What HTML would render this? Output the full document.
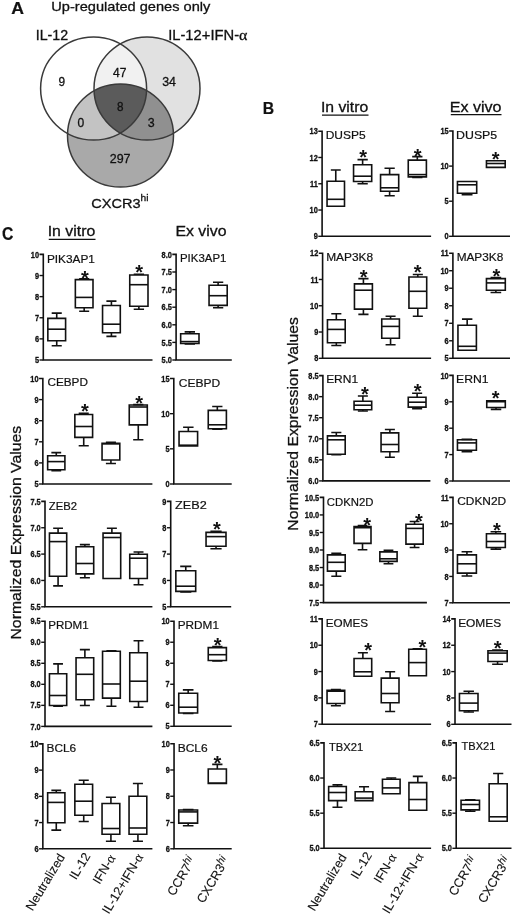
<!DOCTYPE html>
<html><head><meta charset="utf-8"><title>Figure</title>
<style>
html,body{margin:0;padding:0;background:#fff;width:520px;height:915px;overflow:hidden}
svg{display:block;will-change:transform}
text{font-family:"Liberation Sans", sans-serif}
</style></head><body>
<svg width="520" height="915" viewBox="0 0 520 915">
<rect width="520" height="915" fill="#fff"/>
<defs>
<clipPath id="cA"><ellipse cx="93.6" cy="88.5" rx="53" ry="51.5" /></clipPath>
<clipPath id="cB"><ellipse cx="147" cy="88.5" rx="53" ry="51.5" /></clipPath>
<clipPath id="cAB"><ellipse cx="147" cy="88.5" rx="53" ry="51.5" clip-path="url(#cA)"/></clipPath>
</defs>
<ellipse cx="93.6" cy="88.5" rx="53" ry="51.5" fill="#ffffff"/>
<ellipse cx="147" cy="88.5" rx="53" ry="51.5" fill="#e1e1e1"/>
<ellipse cx="120.5" cy="135.5" rx="53" ry="51.5" fill="#a9a9a9"/>
<g clip-path="url(#cA)"><ellipse cx="147" cy="88.5" rx="53" ry="51.5" fill="#f1f1f1"/><ellipse cx="120.5" cy="135.5" rx="53" ry="51.5" fill="#c3c3c3"/></g>
<g clip-path="url(#cB)"><ellipse cx="120.5" cy="135.5" rx="53" ry="51.5" fill="#909090"/></g>
<g clip-path="url(#cAB)"><ellipse cx="120.5" cy="135.5" rx="53" ry="51.5" fill="#5b5b5b"/></g>
<ellipse cx="93.6" cy="88.5" rx="53" ry="51.5" fill="none" stroke="#3a3a3a" stroke-width="1.5"/>
<ellipse cx="147" cy="88.5" rx="53" ry="51.5" fill="none" stroke="#3a3a3a" stroke-width="1.5"/>
<ellipse cx="120.5" cy="135.5" rx="53" ry="51.5" fill="none" stroke="#3a3a3a" stroke-width="1.5"/>
<text transform="translate(58.50,85.80) scale(0.9429,1)" font-size="12.6" fill="#111" stroke="#111" stroke-width="0.3">9</text>
<text transform="translate(113.10,76.60) scale(0.9571,1)" font-size="12.6" fill="#111" stroke="#111" stroke-width="0.3">47</text>
<text transform="translate(162.20,86.30) scale(0.9857,1)" font-size="12.6" fill="#111" stroke="#111" stroke-width="0.3">34</text>
<text transform="translate(116.90,110.70) scale(0.9286,1)" font-size="12.6" fill="#111" stroke="#111" stroke-width="0.3">8</text>
<text transform="translate(77.60,127.30) scale(0.9571,1)" font-size="12.6" fill="#111" stroke="#111" stroke-width="0.3">0</text>
<text transform="translate(147.70,127.00) scale(0.9857,1)" font-size="12.6" fill="#111" stroke="#111" stroke-width="0.3">3</text>
<text transform="translate(109.70,162.60) scale(0.9905,1)" font-size="12.6" fill="#111" stroke="#111" stroke-width="0.3">297</text>
<text transform="translate(11.15,13.70) scale(1.1045,1)" font-size="16.0" font-weight="bold" fill="#111" stroke="#111" stroke-width="0.2">A</text>
<text transform="translate(51.23,11.10) scale(1.0748,1)" font-size="13.6" fill="#111" stroke="#111" stroke-width="0.3">Up-regulated genes only</text>
<text transform="translate(35.69,39.90) scale(1.0097,1)" font-size="14.1" fill="#111" stroke="#111" stroke-width="0.3">IL-12</text>
<text transform="translate(168.15,40.00) scale(1.0467,1)" font-size="14.1" fill="#111" stroke="#111" stroke-width="0.3">IL-12+IFN-<tspan font-family="Liberation Serif" font-size="1.08em">α</tspan></text>
<text transform="translate(91.20,207.70) scale(1.0717,1)" font-size="13.6" fill="#111" stroke="#111" stroke-width="0.3">CXCR3<tspan font-size="9.5" dy="-6.3">hi</tspan></text>
<text transform="translate(262.75,113.60) scale(0.9455,1)" font-size="16.67" font-weight="bold" fill="#111" stroke="#111" stroke-width="0.2">B</text>
<text transform="translate(2.10,239.70) scale(0.9000,1)" font-size="17.47" font-weight="bold" fill="#111" stroke="#111" stroke-width="0.2">C</text>
<text transform="translate(320.92,112.00) scale(1.0814,1)" font-size="14.6" fill="#111" stroke="#111" stroke-width="0.3">In vitro</text>
<path d="M322,115.2H368.5" stroke="#111" stroke-width="1.3"/>
<text transform="translate(449.70,112.00) scale(1.1022,1)" font-size="14.6" fill="#111" stroke="#111" stroke-width="0.3">Ex vivo</text>
<path d="M450.8,114.6H501.5" stroke="#111" stroke-width="1.3"/>
<text transform="translate(47.66,235.70) scale(1.0872,1)" font-size="14.6" fill="#111" stroke="#111" stroke-width="0.3">In vitro</text>
<path d="M48.75,239.3H95.5" stroke="#111" stroke-width="1.3"/>
<text transform="translate(175.41,235.70) scale(1.0870,1)" font-size="14.6" fill="#111" stroke="#111" stroke-width="0.3">Ex vivo</text>
<text transform="translate(20.90,639.55) rotate(-90) scale(1.0530,1)" font-size="15" fill="#111" stroke="#111" stroke-width="0.3">Normalized Expression Values</text>
<text transform="translate(298.30,530.65) rotate(-90) scale(1.0525,1)" font-size="15" fill="#111" stroke="#111" stroke-width="0.3">Normalized Expression Values</text>
<path d="M318.3,131.2H322.1V236.3H431.1" fill="none" stroke="#111" stroke-width="1.6"/>
<text transform="translate(317.80,134.30) scale(0.9,1)" font-size="8.2" text-anchor="end" font-weight="bold" fill="#111" stroke="#111" stroke-width="0.3">13</text>
<path d="M318.3,157.47H322.1" stroke="#111" stroke-width="1.4"/>
<text transform="translate(317.80,160.57) scale(0.9,1)" font-size="8.2" text-anchor="end" font-weight="bold" fill="#111" stroke="#111" stroke-width="0.3">12</text>
<path d="M318.3,183.75H322.1" stroke="#111" stroke-width="1.4"/>
<text transform="translate(317.80,186.85) scale(0.9,1)" font-size="8.2" text-anchor="end" font-weight="bold" fill="#111" stroke="#111" stroke-width="0.3">11</text>
<path d="M318.3,210.03H322.1" stroke="#111" stroke-width="1.4"/>
<text transform="translate(317.80,213.12) scale(0.9,1)" font-size="8.2" text-anchor="end" font-weight="bold" fill="#111" stroke="#111" stroke-width="0.3">10</text>
<path d="M318.3,236.30H322.1" stroke="#111" stroke-width="1.4"/>
<text transform="translate(317.80,239.40) scale(0.9,1)" font-size="8.2" text-anchor="end" font-weight="bold" fill="#111" stroke="#111" stroke-width="0.3">9</text>
<text transform="translate(325.73,138.90) scale(1.0694,1)" font-size="11.2" fill="#111" stroke="#111" stroke-width="0.2">DUSP5</text>
<path d="M327.05,181.30H344.50V206.20H327.05Z" fill="#fff" stroke="#111" stroke-width="1.6"/>
<path d="M327.05,199.30H344.50" stroke="#111" stroke-width="1.6"/>
<path d="M335.77,181.30V170.00M330.82,170.00H340.73" fill="none" stroke="#111" stroke-width="1.6"/>
<path d="M353.55,164.70H371.70V181.50H353.55Z" fill="#fff" stroke="#111" stroke-width="1.6"/>
<path d="M353.55,176.20H371.70" stroke="#111" stroke-width="1.6"/>
<path d="M362.62,164.70V159.60M357.49,159.60H367.76" fill="none" stroke="#111" stroke-width="1.6"/>
<path d="M362.62,181.50V183.80M357.49,183.80H367.76" fill="none" stroke="#111" stroke-width="1.6"/>
<text x="363.10" y="164.10" font-size="20" font-weight="bold" text-anchor="middle" fill="#111">*</text>
<path d="M380.55,174.60H398.70V191.20H380.55Z" fill="#fff" stroke="#111" stroke-width="1.6"/>
<path d="M380.55,187.80H398.70" stroke="#111" stroke-width="1.6"/>
<path d="M389.62,174.60V168.20M384.49,168.20H394.76" fill="none" stroke="#111" stroke-width="1.6"/>
<path d="M389.62,191.20V195.80M384.49,195.80H394.76" fill="none" stroke="#111" stroke-width="1.6"/>
<path d="M408.25,160.10H426.40V176.90H408.25Z" fill="#fff" stroke="#111" stroke-width="1.6"/>
<path d="M408.25,174.60H426.40" stroke="#111" stroke-width="1.6"/>
<path d="M417.32,160.10V156.60M412.19,156.60H422.46" fill="none" stroke="#111" stroke-width="1.6"/>
<path d="M417.32,176.90V177.40M412.19,177.40H422.46" fill="none" stroke="#111" stroke-width="1.6"/>
<text x="417.70" y="163.20" font-size="20" font-weight="bold" text-anchor="middle" fill="#111">*</text>
<path d="M318.8,253.2H322.6V358.3H431.1" fill="none" stroke="#111" stroke-width="1.6"/>
<text transform="translate(318.30,256.30) scale(0.9,1)" font-size="8.2" text-anchor="end" font-weight="bold" fill="#111" stroke="#111" stroke-width="0.3">12</text>
<path d="M318.8,279.48H322.6" stroke="#111" stroke-width="1.4"/>
<text transform="translate(318.30,282.58) scale(0.9,1)" font-size="8.2" text-anchor="end" font-weight="bold" fill="#111" stroke="#111" stroke-width="0.3">11</text>
<path d="M318.8,305.75H322.6" stroke="#111" stroke-width="1.4"/>
<text transform="translate(318.30,308.85) scale(0.9,1)" font-size="8.2" text-anchor="end" font-weight="bold" fill="#111" stroke="#111" stroke-width="0.3">10</text>
<path d="M318.8,332.02H322.6" stroke="#111" stroke-width="1.4"/>
<text transform="translate(318.30,335.12) scale(0.9,1)" font-size="8.2" text-anchor="end" font-weight="bold" fill="#111" stroke="#111" stroke-width="0.3">9</text>
<path d="M318.8,358.30H322.6" stroke="#111" stroke-width="1.4"/>
<text transform="translate(318.30,361.40) scale(0.9,1)" font-size="8.2" text-anchor="end" font-weight="bold" fill="#111" stroke="#111" stroke-width="0.3">8</text>
<text transform="translate(326.14,261.40) scale(1.0628,1)" font-size="11.2" fill="#111" stroke="#111" stroke-width="0.2">MAP3K8</text>
<path d="M327.45,319.70H345.20V342.80H327.45Z" fill="#fff" stroke="#111" stroke-width="1.6"/>
<path d="M327.45,329.40H345.20" stroke="#111" stroke-width="1.6"/>
<path d="M336.32,319.70V313.70M331.29,313.70H341.36" fill="none" stroke="#111" stroke-width="1.6"/>
<path d="M336.32,342.80V345.50M331.29,345.50H341.36" fill="none" stroke="#111" stroke-width="1.6"/>
<path d="M354.45,283.90H372.40V309.10H354.45Z" fill="#fff" stroke="#111" stroke-width="1.6"/>
<path d="M354.45,290.20H372.40" stroke="#111" stroke-width="1.6"/>
<path d="M363.42,283.90V278.60M358.34,278.60H368.51" fill="none" stroke="#111" stroke-width="1.6"/>
<path d="M363.42,309.10V314.40M358.34,314.40H368.51" fill="none" stroke="#111" stroke-width="1.6"/>
<text x="363.70" y="283.50" font-size="20" font-weight="bold" text-anchor="middle" fill="#111">*</text>
<path d="M381.75,319.00H399.40V338.20H381.75Z" fill="#fff" stroke="#111" stroke-width="1.6"/>
<path d="M381.75,326.40H399.40" stroke="#111" stroke-width="1.6"/>
<path d="M390.57,319.00V316.20M385.57,316.20H395.58" fill="none" stroke="#111" stroke-width="1.6"/>
<path d="M390.57,338.20V344.80M385.57,344.80H395.58" fill="none" stroke="#111" stroke-width="1.6"/>
<path d="M408.95,277.00H426.70V308.20H408.95Z" fill="#fff" stroke="#111" stroke-width="1.6"/>
<path d="M408.95,291.30H426.70" stroke="#111" stroke-width="1.6"/>
<path d="M417.82,277.00V274.50M412.79,274.50H422.86" fill="none" stroke="#111" stroke-width="1.6"/>
<path d="M417.82,308.20V316.20M412.79,316.20H422.86" fill="none" stroke="#111" stroke-width="1.6"/>
<text x="417.70" y="279.40" font-size="20" font-weight="bold" text-anchor="middle" fill="#111">*</text>
<path d="M319.09999999999997,375.6H322.9V480.9H430.4" fill="none" stroke="#111" stroke-width="1.6"/>
<text transform="translate(318.60,378.70) scale(0.9,1)" font-size="8.2" text-anchor="end" font-weight="bold" fill="#111" stroke="#111" stroke-width="0.3">8.5</text>
<path d="M319.09999999999997,396.66H322.9" stroke="#111" stroke-width="1.4"/>
<text transform="translate(318.60,399.76) scale(0.9,1)" font-size="8.2" text-anchor="end" font-weight="bold" fill="#111" stroke="#111" stroke-width="0.3">8.0</text>
<path d="M319.09999999999997,417.72H322.9" stroke="#111" stroke-width="1.4"/>
<text transform="translate(318.60,420.82) scale(0.9,1)" font-size="8.2" text-anchor="end" font-weight="bold" fill="#111" stroke="#111" stroke-width="0.3">7.5</text>
<path d="M319.09999999999997,438.78H322.9" stroke="#111" stroke-width="1.4"/>
<text transform="translate(318.60,441.88) scale(0.9,1)" font-size="8.2" text-anchor="end" font-weight="bold" fill="#111" stroke="#111" stroke-width="0.3">7.0</text>
<path d="M319.09999999999997,459.84H322.9" stroke="#111" stroke-width="1.4"/>
<text transform="translate(318.60,462.94) scale(0.9,1)" font-size="8.2" text-anchor="end" font-weight="bold" fill="#111" stroke="#111" stroke-width="0.3">6.5</text>
<path d="M319.09999999999997,480.90H322.9" stroke="#111" stroke-width="1.4"/>
<text transform="translate(318.60,484.00) scale(0.9,1)" font-size="8.2" text-anchor="end" font-weight="bold" fill="#111" stroke="#111" stroke-width="0.3">6.0</text>
<text transform="translate(326.13,383.40) scale(1.0714,1)" font-size="11.2" fill="#111" stroke="#111" stroke-width="0.2">ERN1</text>
<path d="M327.45,435.90H345.20V454.20H327.45Z" fill="#fff" stroke="#111" stroke-width="1.6"/>
<path d="M327.45,439.80H345.20" stroke="#111" stroke-width="1.6"/>
<path d="M336.32,435.90V432.50M331.29,432.50H341.36" fill="none" stroke="#111" stroke-width="1.6"/>
<path d="M336.32,454.20V454.80M331.29,454.80H341.36" fill="none" stroke="#111" stroke-width="1.6"/>
<path d="M354.05,401.30H371.70V409.80H354.05Z" fill="#fff" stroke="#111" stroke-width="1.6"/>
<path d="M354.05,405.20H371.70" stroke="#111" stroke-width="1.6"/>
<path d="M362.88,401.30V396.00M357.87,396.00H367.88" fill="none" stroke="#111" stroke-width="1.6"/>
<path d="M362.88,409.80V411.00M357.87,411.00H367.88" fill="none" stroke="#111" stroke-width="1.6"/>
<text x="364.80" y="400.90" font-size="20" font-weight="bold" text-anchor="middle" fill="#111">*</text>
<path d="M381.05,432.90H398.70V451.80H381.05Z" fill="#fff" stroke="#111" stroke-width="1.6"/>
<path d="M381.05,444.50H398.70" stroke="#111" stroke-width="1.6"/>
<path d="M389.88,432.90V429.50M384.87,429.50H394.88" fill="none" stroke="#111" stroke-width="1.6"/>
<path d="M389.88,451.80V457.20M384.87,457.20H394.88" fill="none" stroke="#111" stroke-width="1.6"/>
<path d="M408.25,397.20H426.00V407.10H408.25Z" fill="#fff" stroke="#111" stroke-width="1.6"/>
<path d="M408.25,402.20H426.00" stroke="#111" stroke-width="1.6"/>
<path d="M417.12,397.20V393.20M412.09,393.20H422.16" fill="none" stroke="#111" stroke-width="1.6"/>
<path d="M417.12,407.10V408.70M412.09,408.70H422.16" fill="none" stroke="#111" stroke-width="1.6"/>
<text x="417.70" y="398.40" font-size="20" font-weight="bold" text-anchor="middle" fill="#111">*</text>
<path d="M319.7,497.4H323.5V602.6H426.9" fill="none" stroke="#111" stroke-width="1.6"/>
<text transform="translate(319.20,500.50) scale(0.9,1)" font-size="8.2" text-anchor="end" font-weight="bold" fill="#111" stroke="#111" stroke-width="0.3">10.5</text>
<path d="M319.7,514.93H323.5" stroke="#111" stroke-width="1.4"/>
<text transform="translate(319.20,518.03) scale(0.9,1)" font-size="8.2" text-anchor="end" font-weight="bold" fill="#111" stroke="#111" stroke-width="0.3">10.0</text>
<path d="M319.7,532.47H323.5" stroke="#111" stroke-width="1.4"/>
<text transform="translate(319.20,535.57) scale(0.9,1)" font-size="8.2" text-anchor="end" font-weight="bold" fill="#111" stroke="#111" stroke-width="0.3">9.5</text>
<path d="M319.7,550.00H323.5" stroke="#111" stroke-width="1.4"/>
<text transform="translate(319.20,553.10) scale(0.9,1)" font-size="8.2" text-anchor="end" font-weight="bold" fill="#111" stroke="#111" stroke-width="0.3">9.0</text>
<path d="M319.7,567.53H323.5" stroke="#111" stroke-width="1.4"/>
<text transform="translate(319.20,570.63) scale(0.9,1)" font-size="8.2" text-anchor="end" font-weight="bold" fill="#111" stroke="#111" stroke-width="0.3">8.5</text>
<path d="M319.7,585.07H323.5" stroke="#111" stroke-width="1.4"/>
<text transform="translate(319.20,588.17) scale(0.9,1)" font-size="8.2" text-anchor="end" font-weight="bold" fill="#111" stroke="#111" stroke-width="0.3">8.0</text>
<path d="M319.7,602.60H323.5" stroke="#111" stroke-width="1.4"/>
<text transform="translate(319.20,605.70) scale(0.9,1)" font-size="8.2" text-anchor="end" font-weight="bold" fill="#111" stroke="#111" stroke-width="0.3">7.5</text>
<text transform="translate(326.80,505.60) scale(1.0130,1)" font-size="11.2" fill="#111" stroke="#111" stroke-width="0.2">CDKN2D</text>
<path d="M327.45,554.90H345.20V571.10H327.45Z" fill="#fff" stroke="#111" stroke-width="1.6"/>
<path d="M327.45,562.30H345.20" stroke="#111" stroke-width="1.6"/>
<path d="M336.32,554.90V553.30M331.29,553.30H341.36" fill="none" stroke="#111" stroke-width="1.6"/>
<path d="M336.32,571.10V576.20M331.29,576.20H341.36" fill="none" stroke="#111" stroke-width="1.6"/>
<path d="M354.05,526.50H371.00V543.40H354.05Z" fill="#fff" stroke="#111" stroke-width="1.6"/>
<path d="M354.05,527.70H371.00" stroke="#111" stroke-width="1.6"/>
<path d="M362.52,526.50V525.60M357.70,525.60H367.35" fill="none" stroke="#111" stroke-width="1.6"/>
<path d="M362.52,543.40V549.80M357.70,549.80H367.35" fill="none" stroke="#111" stroke-width="1.6"/>
<text x="367.20" y="531.50" font-size="20" font-weight="bold" text-anchor="middle" fill="#111">*</text>
<path d="M379.85,551.90H397.10V561.40H379.85Z" fill="#fff" stroke="#111" stroke-width="1.6"/>
<path d="M379.85,558.80H397.10" stroke="#111" stroke-width="1.6"/>
<path d="M388.48,551.90V550.30M383.57,550.30H393.38" fill="none" stroke="#111" stroke-width="1.6"/>
<path d="M388.48,561.40V563.70M383.57,563.70H393.38" fill="none" stroke="#111" stroke-width="1.6"/>
<path d="M405.95,524.20H423.20V544.10H405.95Z" fill="#fff" stroke="#111" stroke-width="1.6"/>
<path d="M405.95,528.40H423.20" stroke="#111" stroke-width="1.6"/>
<path d="M414.57,524.20V521.50M409.67,521.50H419.48" fill="none" stroke="#111" stroke-width="1.6"/>
<path d="M414.57,544.10V547.50M409.67,547.50H419.48" fill="none" stroke="#111" stroke-width="1.6"/>
<text x="418.80" y="527.50" font-size="20" font-weight="bold" text-anchor="middle" fill="#111">*</text>
<path d="M318.34999999999997,618.9H322.15V724.2H431.1" fill="none" stroke="#111" stroke-width="1.6"/>
<text transform="translate(317.85,622.00) scale(0.9,1)" font-size="8.2" text-anchor="end" font-weight="bold" fill="#111" stroke="#111" stroke-width="0.3">11</text>
<path d="M318.34999999999997,645.23H322.15" stroke="#111" stroke-width="1.4"/>
<text transform="translate(317.85,648.33) scale(0.9,1)" font-size="8.2" text-anchor="end" font-weight="bold" fill="#111" stroke="#111" stroke-width="0.3">10</text>
<path d="M318.34999999999997,671.55H322.15" stroke="#111" stroke-width="1.4"/>
<text transform="translate(317.85,674.65) scale(0.9,1)" font-size="8.2" text-anchor="end" font-weight="bold" fill="#111" stroke="#111" stroke-width="0.3">9</text>
<path d="M318.34999999999997,697.88H322.15" stroke="#111" stroke-width="1.4"/>
<text transform="translate(317.85,700.98) scale(0.9,1)" font-size="8.2" text-anchor="end" font-weight="bold" fill="#111" stroke="#111" stroke-width="0.3">8</text>
<path d="M318.34999999999997,724.20H322.15" stroke="#111" stroke-width="1.4"/>
<text transform="translate(317.85,727.30) scale(0.9,1)" font-size="8.2" text-anchor="end" font-weight="bold" fill="#111" stroke="#111" stroke-width="0.3">7</text>
<text transform="translate(325.75,626.90) scale(1.0462,1)" font-size="11.2" fill="#111" stroke="#111" stroke-width="0.2">EOMES</text>
<path d="M327.05,690.30H344.70V703.50H327.05Z" fill="#fff" stroke="#111" stroke-width="1.6"/>
<path d="M327.05,691.20H344.70" stroke="#111" stroke-width="1.6"/>
<path d="M335.88,690.30V689.60M330.87,689.60H340.88" fill="none" stroke="#111" stroke-width="1.6"/>
<path d="M335.88,703.50V705.80M330.87,705.80H340.88" fill="none" stroke="#111" stroke-width="1.6"/>
<path d="M354.05,658.50H371.70V676.20H354.05Z" fill="#fff" stroke="#111" stroke-width="1.6"/>
<path d="M354.05,671.80H371.70" stroke="#111" stroke-width="1.6"/>
<path d="M362.88,658.50V652.70M357.87,652.70H367.88" fill="none" stroke="#111" stroke-width="1.6"/>
<text x="368.10" y="656.90" font-size="20" font-weight="bold" text-anchor="middle" fill="#111">*</text>
<path d="M381.25,678.10H399.00V702.80H381.25Z" fill="#fff" stroke="#111" stroke-width="1.6"/>
<path d="M381.25,693.50H399.00" stroke="#111" stroke-width="1.6"/>
<path d="M390.12,678.10V671.80M385.09,671.80H395.16" fill="none" stroke="#111" stroke-width="1.6"/>
<path d="M390.12,702.80V711.50M385.09,711.50H395.16" fill="none" stroke="#111" stroke-width="1.6"/>
<path d="M408.75,649.20H426.40V675.80H408.75Z" fill="#fff" stroke="#111" stroke-width="1.6"/>
<path d="M408.75,662.60H426.40" stroke="#111" stroke-width="1.6"/>
<path d="M417.57,649.20V648.80M412.57,648.80H422.58" fill="none" stroke="#111" stroke-width="1.6"/>
<text x="422.30" y="653.50" font-size="20" font-weight="bold" text-anchor="middle" fill="#111">*</text>
<path d="M320.2,742.9H324.0V848.3H431.1" fill="none" stroke="#111" stroke-width="1.6"/>
<text transform="translate(319.70,746.00) scale(0.9,1)" font-size="8.2" text-anchor="end" font-weight="bold" fill="#111" stroke="#111" stroke-width="0.3">6.5</text>
<path d="M320.2,778.03H324.0" stroke="#111" stroke-width="1.4"/>
<text transform="translate(319.70,781.13) scale(0.9,1)" font-size="8.2" text-anchor="end" font-weight="bold" fill="#111" stroke="#111" stroke-width="0.3">6.0</text>
<path d="M320.2,813.17H324.0" stroke="#111" stroke-width="1.4"/>
<text transform="translate(319.70,816.27) scale(0.9,1)" font-size="8.2" text-anchor="end" font-weight="bold" fill="#111" stroke="#111" stroke-width="0.3">5.5</text>
<path d="M320.2,848.30H324.0" stroke="#111" stroke-width="1.4"/>
<text transform="translate(319.70,851.40) scale(0.9,1)" font-size="8.2" text-anchor="end" font-weight="bold" fill="#111" stroke="#111" stroke-width="0.3">5.0</text>
<text transform="translate(329.00,750.60) scale(1.0000,1)" font-size="11.2" fill="#111" stroke="#111" stroke-width="0.2">TBX21</text>
<path d="M328.65,786.50H346.30V800.60H328.65Z" fill="#fff" stroke="#111" stroke-width="1.6"/>
<path d="M328.65,792.50H346.30" stroke="#111" stroke-width="1.6"/>
<path d="M337.48,786.50V784.90M332.47,784.90H342.48" fill="none" stroke="#111" stroke-width="1.6"/>
<path d="M337.48,800.60V807.30M332.47,807.30H342.48" fill="none" stroke="#111" stroke-width="1.6"/>
<path d="M355.15,791.80H372.90V800.60H355.15Z" fill="#fff" stroke="#111" stroke-width="1.6"/>
<path d="M355.15,798.10H372.90" stroke="#111" stroke-width="1.6"/>
<path d="M364.02,791.80V786.80M358.99,786.80H369.06" fill="none" stroke="#111" stroke-width="1.6"/>
<path d="M382.45,779.20H400.10V793.70H382.45Z" fill="#fff" stroke="#111" stroke-width="1.6"/>
<path d="M382.45,787.90H400.10" stroke="#111" stroke-width="1.6"/>
<path d="M391.27,779.20V778.00M386.27,778.00H396.28" fill="none" stroke="#111" stroke-width="1.6"/>
<path d="M408.95,782.60H426.70V810.30H408.95Z" fill="#fff" stroke="#111" stroke-width="1.6"/>
<path d="M408.95,799.50H426.70" stroke="#111" stroke-width="1.6"/>
<path d="M417.82,782.60V776.40M412.79,776.40H422.86" fill="none" stroke="#111" stroke-width="1.6"/>
<path d="M449.09999999999997,131.0H452.9V236.3H510" fill="none" stroke="#111" stroke-width="1.6"/>
<text transform="translate(448.60,134.10) scale(0.9,1)" font-size="8.2" text-anchor="end" font-weight="bold" fill="#111" stroke="#111" stroke-width="0.3">15</text>
<path d="M449.09999999999997,166.10H452.9" stroke="#111" stroke-width="1.4"/>
<text transform="translate(448.60,169.20) scale(0.9,1)" font-size="8.2" text-anchor="end" font-weight="bold" fill="#111" stroke="#111" stroke-width="0.3">10</text>
<path d="M449.09999999999997,201.20H452.9" stroke="#111" stroke-width="1.4"/>
<text transform="translate(448.60,204.30) scale(0.9,1)" font-size="8.2" text-anchor="end" font-weight="bold" fill="#111" stroke="#111" stroke-width="0.3">5</text>
<path d="M449.09999999999997,236.30H452.9" stroke="#111" stroke-width="1.4"/>
<text transform="translate(448.60,239.40) scale(0.9,1)" font-size="8.2" text-anchor="end" font-weight="bold" fill="#111" stroke="#111" stroke-width="0.3">0</text>
<text transform="translate(456.10,138.50) scale(1.1028,1)" font-size="11.2" fill="#111" stroke="#111" stroke-width="0.2">DUSP5</text>
<path d="M457.45,181.50H476.70V193.20H457.45Z" fill="#fff" stroke="#111" stroke-width="1.6"/>
<path d="M457.45,184.80H476.70" stroke="#111" stroke-width="1.6"/>
<path d="M467.07,193.20V194.80M461.65,194.80H472.50" fill="none" stroke="#111" stroke-width="1.6"/>
<path d="M486.45,160.80H505.20V167.40H486.45Z" fill="#fff" stroke="#111" stroke-width="1.6"/>
<path d="M486.45,163.50H505.20" stroke="#111" stroke-width="1.6"/>
<text x="495.70" y="165.80" font-size="20" font-weight="bold" text-anchor="middle" fill="#111">*</text>
<path d="M449.09999999999997,253.2H452.9V358.3H510" fill="none" stroke="#111" stroke-width="1.6"/>
<text transform="translate(448.60,256.30) scale(0.9,1)" font-size="8.2" text-anchor="end" font-weight="bold" fill="#111" stroke="#111" stroke-width="0.3">11</text>
<path d="M449.09999999999997,270.72H452.9" stroke="#111" stroke-width="1.4"/>
<text transform="translate(448.60,273.82) scale(0.9,1)" font-size="8.2" text-anchor="end" font-weight="bold" fill="#111" stroke="#111" stroke-width="0.3">10</text>
<path d="M449.09999999999997,288.23H452.9" stroke="#111" stroke-width="1.4"/>
<text transform="translate(448.60,291.33) scale(0.9,1)" font-size="8.2" text-anchor="end" font-weight="bold" fill="#111" stroke="#111" stroke-width="0.3">9</text>
<path d="M449.09999999999997,305.75H452.9" stroke="#111" stroke-width="1.4"/>
<text transform="translate(448.60,308.85) scale(0.9,1)" font-size="8.2" text-anchor="end" font-weight="bold" fill="#111" stroke="#111" stroke-width="0.3">8</text>
<path d="M449.09999999999997,323.27H452.9" stroke="#111" stroke-width="1.4"/>
<text transform="translate(448.60,326.37) scale(0.9,1)" font-size="8.2" text-anchor="end" font-weight="bold" fill="#111" stroke="#111" stroke-width="0.3">7</text>
<path d="M449.09999999999997,340.78H452.9" stroke="#111" stroke-width="1.4"/>
<text transform="translate(448.60,343.88) scale(0.9,1)" font-size="8.2" text-anchor="end" font-weight="bold" fill="#111" stroke="#111" stroke-width="0.3">6</text>
<path d="M449.09999999999997,358.30H452.9" stroke="#111" stroke-width="1.4"/>
<text transform="translate(448.60,361.40) scale(0.9,1)" font-size="8.2" text-anchor="end" font-weight="bold" fill="#111" stroke="#111" stroke-width="0.3">5</text>
<text transform="translate(456.64,260.50) scale(1.0558,1)" font-size="11.2" fill="#111" stroke="#111" stroke-width="0.2">MAP3K8</text>
<path d="M457.95,325.20H476.40V350.20H457.95Z" fill="#fff" stroke="#111" stroke-width="1.6"/>
<path d="M457.95,346.30H476.40" stroke="#111" stroke-width="1.6"/>
<path d="M467.17,325.20V319.10M461.96,319.10H472.39" fill="none" stroke="#111" stroke-width="1.6"/>
<path d="M486.45,278.60H505.30V290.20H486.45Z" fill="#fff" stroke="#111" stroke-width="1.6"/>
<path d="M486.45,282.90H505.30" stroke="#111" stroke-width="1.6"/>
<path d="M495.88,278.60V277.50M490.56,277.50H501.19" fill="none" stroke="#111" stroke-width="1.6"/>
<path d="M495.88,290.20V292.50M490.56,292.50H501.19" fill="none" stroke="#111" stroke-width="1.6"/>
<text x="496.50" y="283.20" font-size="20" font-weight="bold" text-anchor="middle" fill="#111">*</text>
<path d="M449.2,375.4H453.0V481.0H510" fill="none" stroke="#111" stroke-width="1.6"/>
<text transform="translate(448.70,378.50) scale(0.9,1)" font-size="8.2" text-anchor="end" font-weight="bold" fill="#111" stroke="#111" stroke-width="0.3">10</text>
<path d="M449.2,401.80H453.0" stroke="#111" stroke-width="1.4"/>
<text transform="translate(448.70,404.90) scale(0.9,1)" font-size="8.2" text-anchor="end" font-weight="bold" fill="#111" stroke="#111" stroke-width="0.3">9</text>
<path d="M449.2,428.20H453.0" stroke="#111" stroke-width="1.4"/>
<text transform="translate(448.70,431.30) scale(0.9,1)" font-size="8.2" text-anchor="end" font-weight="bold" fill="#111" stroke="#111" stroke-width="0.3">8</text>
<path d="M449.2,454.60H453.0" stroke="#111" stroke-width="1.4"/>
<text transform="translate(448.70,457.70) scale(0.9,1)" font-size="8.2" text-anchor="end" font-weight="bold" fill="#111" stroke="#111" stroke-width="0.3">7</text>
<path d="M449.2,481.00H453.0" stroke="#111" stroke-width="1.4"/>
<text transform="translate(448.70,484.10) scale(0.9,1)" font-size="8.2" text-anchor="end" font-weight="bold" fill="#111" stroke="#111" stroke-width="0.3">6</text>
<text transform="translate(456.11,383.30) scale(1.0893,1)" font-size="11.2" fill="#111" stroke="#111" stroke-width="0.2">ERN1</text>
<path d="M457.45,439.80H476.40V450.30H457.45Z" fill="#fff" stroke="#111" stroke-width="1.6"/>
<path d="M457.45,442.90H476.40" stroke="#111" stroke-width="1.6"/>
<path d="M466.92,439.80V439.40M461.58,439.40H472.27" fill="none" stroke="#111" stroke-width="1.6"/>
<path d="M466.92,450.30V451.80M461.58,451.80H472.27" fill="none" stroke="#111" stroke-width="1.6"/>
<path d="M486.75,400.90H505.30V407.50H486.75Z" fill="#fff" stroke="#111" stroke-width="1.6"/>
<path d="M486.75,401.70H505.30" stroke="#111" stroke-width="1.6"/>
<path d="M496.02,407.50V409.40M490.79,409.40H501.26" fill="none" stroke="#111" stroke-width="1.6"/>
<text x="495.70" y="405.20" font-size="20" font-weight="bold" text-anchor="middle" fill="#111">*</text>
<path d="M449.2,497.4H453.0V602.8H510" fill="none" stroke="#111" stroke-width="1.6"/>
<text transform="translate(448.70,500.50) scale(0.9,1)" font-size="8.2" text-anchor="end" font-weight="bold" fill="#111" stroke="#111" stroke-width="0.3">11</text>
<path d="M449.2,523.75H453.0" stroke="#111" stroke-width="1.4"/>
<text transform="translate(448.70,526.85) scale(0.9,1)" font-size="8.2" text-anchor="end" font-weight="bold" fill="#111" stroke="#111" stroke-width="0.3">10</text>
<path d="M449.2,550.10H453.0" stroke="#111" stroke-width="1.4"/>
<text transform="translate(448.70,553.20) scale(0.9,1)" font-size="8.2" text-anchor="end" font-weight="bold" fill="#111" stroke="#111" stroke-width="0.3">9</text>
<path d="M449.2,576.45H453.0" stroke="#111" stroke-width="1.4"/>
<text transform="translate(448.70,579.55) scale(0.9,1)" font-size="8.2" text-anchor="end" font-weight="bold" fill="#111" stroke="#111" stroke-width="0.3">8</text>
<path d="M449.2,602.80H453.0" stroke="#111" stroke-width="1.4"/>
<text transform="translate(448.70,605.90) scale(0.9,1)" font-size="8.2" text-anchor="end" font-weight="bold" fill="#111" stroke="#111" stroke-width="0.3">7</text>
<text transform="translate(457.20,504.80) scale(1.0652,1)" font-size="11.2" fill="#111" stroke="#111" stroke-width="0.2">CDKN2D</text>
<path d="M457.45,554.90H476.40V573.10H457.45Z" fill="#fff" stroke="#111" stroke-width="1.6"/>
<path d="M457.45,563.80H476.40" stroke="#111" stroke-width="1.6"/>
<path d="M466.92,554.90V551.80M461.58,551.80H472.27" fill="none" stroke="#111" stroke-width="1.6"/>
<path d="M466.92,573.10V576.00M461.58,576.00H472.27" fill="none" stroke="#111" stroke-width="1.6"/>
<path d="M486.45,533.80H505.30V547.50H486.45Z" fill="#fff" stroke="#111" stroke-width="1.6"/>
<path d="M486.45,541.50H505.30" stroke="#111" stroke-width="1.6"/>
<path d="M495.88,533.80V531.80M490.56,531.80H501.19" fill="none" stroke="#111" stroke-width="1.6"/>
<path d="M495.88,547.50V549.10M490.56,549.10H501.19" fill="none" stroke="#111" stroke-width="1.6"/>
<text x="496.90" y="537.20" font-size="20" font-weight="bold" text-anchor="middle" fill="#111">*</text>
<path d="M451.2,618.9H455.0V724.3H511.5" fill="none" stroke="#111" stroke-width="1.6"/>
<text transform="translate(450.70,622.00) scale(0.9,1)" font-size="8.2" text-anchor="end" font-weight="bold" fill="#111" stroke="#111" stroke-width="0.3">14</text>
<path d="M451.2,645.25H455.0" stroke="#111" stroke-width="1.4"/>
<text transform="translate(450.70,648.35) scale(0.9,1)" font-size="8.2" text-anchor="end" font-weight="bold" fill="#111" stroke="#111" stroke-width="0.3">12</text>
<path d="M451.2,671.60H455.0" stroke="#111" stroke-width="1.4"/>
<text transform="translate(450.70,674.70) scale(0.9,1)" font-size="8.2" text-anchor="end" font-weight="bold" fill="#111" stroke="#111" stroke-width="0.3">10</text>
<path d="M451.2,697.95H455.0" stroke="#111" stroke-width="1.4"/>
<text transform="translate(450.70,701.05) scale(0.9,1)" font-size="8.2" text-anchor="end" font-weight="bold" fill="#111" stroke="#111" stroke-width="0.3">8</text>
<path d="M451.2,724.30H455.0" stroke="#111" stroke-width="1.4"/>
<text transform="translate(450.70,727.40) scale(0.9,1)" font-size="8.2" text-anchor="end" font-weight="bold" fill="#111" stroke="#111" stroke-width="0.3">6</text>
<text transform="translate(458.13,626.50) scale(1.0667,1)" font-size="11.2" fill="#111" stroke="#111" stroke-width="0.2">EOMES</text>
<path d="M459.45,693.50H478.00V710.80H459.45Z" fill="#fff" stroke="#111" stroke-width="1.6"/>
<path d="M459.45,703.10H478.00" stroke="#111" stroke-width="1.6"/>
<path d="M468.73,693.50V691.20M463.49,691.20H473.96" fill="none" stroke="#111" stroke-width="1.6"/>
<path d="M468.73,710.80V712.00M463.49,712.00H473.96" fill="none" stroke="#111" stroke-width="1.6"/>
<path d="M487.95,650.80H507.20V661.50H487.95Z" fill="#fff" stroke="#111" stroke-width="1.6"/>
<path d="M487.95,653.10H507.20" stroke="#111" stroke-width="1.6"/>
<path d="M497.57,650.80V650.00M492.15,650.00H503.00" fill="none" stroke="#111" stroke-width="1.6"/>
<path d="M497.57,661.50V664.20M492.15,664.20H503.00" fill="none" stroke="#111" stroke-width="1.6"/>
<text x="497.70" y="654.60" font-size="20" font-weight="bold" text-anchor="middle" fill="#111">*</text>
<path d="M452.4,742.9H456.2V848.3H511.5" fill="none" stroke="#111" stroke-width="1.6"/>
<text transform="translate(451.90,746.00) scale(0.9,1)" font-size="8.2" text-anchor="end" font-weight="bold" fill="#111" stroke="#111" stroke-width="0.3">6.5</text>
<path d="M452.4,778.03H456.2" stroke="#111" stroke-width="1.4"/>
<text transform="translate(451.90,781.13) scale(0.9,1)" font-size="8.2" text-anchor="end" font-weight="bold" fill="#111" stroke="#111" stroke-width="0.3">6.0</text>
<path d="M452.4,813.17H456.2" stroke="#111" stroke-width="1.4"/>
<text transform="translate(451.90,816.27) scale(0.9,1)" font-size="8.2" text-anchor="end" font-weight="bold" fill="#111" stroke="#111" stroke-width="0.3">5.5</text>
<path d="M452.4,848.30H456.2" stroke="#111" stroke-width="1.4"/>
<text transform="translate(451.90,851.40) scale(0.9,1)" font-size="8.2" text-anchor="end" font-weight="bold" fill="#111" stroke="#111" stroke-width="0.3">5.0</text>
<text transform="translate(461.50,749.80) scale(0.9882,1)" font-size="11.2" fill="#111" stroke="#111" stroke-width="0.2">TBX21</text>
<path d="M461.05,800.20H479.50V809.90H461.05Z" fill="#fff" stroke="#111" stroke-width="1.6"/>
<path d="M461.05,804.50H479.50" stroke="#111" stroke-width="1.6"/>
<path d="M470.27,800.20V799.90M465.06,799.90H475.49" fill="none" stroke="#111" stroke-width="1.6"/>
<path d="M470.27,809.90V811.20M465.06,811.20H475.49" fill="none" stroke="#111" stroke-width="1.6"/>
<path d="M489.15,783.80H507.20V821.20H489.15Z" fill="#fff" stroke="#111" stroke-width="1.6"/>
<path d="M489.15,816.80H507.20" stroke="#111" stroke-width="1.6"/>
<path d="M498.17,783.80V773.50M493.07,773.50H503.28" fill="none" stroke="#111" stroke-width="1.6"/>
<path d="M39.5,254.4H43.3V360.0H152.5" fill="none" stroke="#111" stroke-width="1.6"/>
<text transform="translate(39.00,257.50) scale(0.9,1)" font-size="8.2" text-anchor="end" font-weight="bold" fill="#111" stroke="#111" stroke-width="0.3">10</text>
<path d="M39.5,275.52H43.3" stroke="#111" stroke-width="1.4"/>
<text transform="translate(39.00,278.62) scale(0.9,1)" font-size="8.2" text-anchor="end" font-weight="bold" fill="#111" stroke="#111" stroke-width="0.3">9</text>
<path d="M39.5,296.64H43.3" stroke="#111" stroke-width="1.4"/>
<text transform="translate(39.00,299.74) scale(0.9,1)" font-size="8.2" text-anchor="end" font-weight="bold" fill="#111" stroke="#111" stroke-width="0.3">8</text>
<path d="M39.5,317.76H43.3" stroke="#111" stroke-width="1.4"/>
<text transform="translate(39.00,320.86) scale(0.9,1)" font-size="8.2" text-anchor="end" font-weight="bold" fill="#111" stroke="#111" stroke-width="0.3">7</text>
<path d="M39.5,338.88H43.3" stroke="#111" stroke-width="1.4"/>
<text transform="translate(39.00,341.98) scale(0.9,1)" font-size="8.2" text-anchor="end" font-weight="bold" fill="#111" stroke="#111" stroke-width="0.3">6</text>
<path d="M39.5,360.00H43.3" stroke="#111" stroke-width="1.4"/>
<text transform="translate(39.00,363.10) scale(0.9,1)" font-size="8.2" text-anchor="end" font-weight="bold" fill="#111" stroke="#111" stroke-width="0.3">5</text>
<text transform="translate(46.94,262.60) scale(1.0568,1)" font-size="11.2" fill="#111" stroke="#111" stroke-width="0.2">PIK3AP1</text>
<path d="M47.85,318.40H65.60V340.80H47.85Z" fill="#fff" stroke="#111" stroke-width="1.6"/>
<path d="M47.85,329.20H65.60" stroke="#111" stroke-width="1.6"/>
<path d="M56.72,318.40V313.10M51.69,313.10H61.76" fill="none" stroke="#111" stroke-width="1.6"/>
<path d="M56.72,340.80V345.80M51.69,345.80H61.76" fill="none" stroke="#111" stroke-width="1.6"/>
<path d="M75.35,279.60H93.00V307.80H75.35Z" fill="#fff" stroke="#111" stroke-width="1.6"/>
<path d="M75.35,297.40H93.00" stroke="#111" stroke-width="1.6"/>
<path d="M84.17,279.60V278.90M79.17,278.90H89.18" fill="none" stroke="#111" stroke-width="1.6"/>
<path d="M84.17,307.80V311.20M79.17,311.20H89.18" fill="none" stroke="#111" stroke-width="1.6"/>
<text x="85.00" y="285.00" font-size="20" font-weight="bold" text-anchor="middle" fill="#111">*</text>
<path d="M102.55,305.50H120.30V332.70H102.55Z" fill="#fff" stroke="#111" stroke-width="1.6"/>
<path d="M102.55,324.20H120.30" stroke="#111" stroke-width="1.6"/>
<path d="M111.42,305.50V301.10M106.39,301.10H116.46" fill="none" stroke="#111" stroke-width="1.6"/>
<path d="M111.42,332.70V336.40M106.39,336.40H116.46" fill="none" stroke="#111" stroke-width="1.6"/>
<path d="M129.75,275.00H148.00V306.20H129.75Z" fill="#fff" stroke="#111" stroke-width="1.6"/>
<path d="M129.75,284.70H148.00" stroke="#111" stroke-width="1.6"/>
<path d="M138.88,275.00V274.30M133.71,274.30H144.04" fill="none" stroke="#111" stroke-width="1.6"/>
<path d="M138.88,306.20V309.20M133.71,309.20H144.04" fill="none" stroke="#111" stroke-width="1.6"/>
<text x="139.20" y="278.80" font-size="20" font-weight="bold" text-anchor="middle" fill="#111">*</text>
<path d="M39.050000000000004,378.5H42.85V484.0H152.4" fill="none" stroke="#111" stroke-width="1.6"/>
<text transform="translate(38.55,381.60) scale(0.9,1)" font-size="8.2" text-anchor="end" font-weight="bold" fill="#111" stroke="#111" stroke-width="0.3">10</text>
<path d="M39.050000000000004,399.60H42.85" stroke="#111" stroke-width="1.4"/>
<text transform="translate(38.55,402.70) scale(0.9,1)" font-size="8.2" text-anchor="end" font-weight="bold" fill="#111" stroke="#111" stroke-width="0.3">9</text>
<path d="M39.050000000000004,420.70H42.85" stroke="#111" stroke-width="1.4"/>
<text transform="translate(38.55,423.80) scale(0.9,1)" font-size="8.2" text-anchor="end" font-weight="bold" fill="#111" stroke="#111" stroke-width="0.3">8</text>
<path d="M39.050000000000004,441.80H42.85" stroke="#111" stroke-width="1.4"/>
<text transform="translate(38.55,444.90) scale(0.9,1)" font-size="8.2" text-anchor="end" font-weight="bold" fill="#111" stroke="#111" stroke-width="0.3">7</text>
<path d="M39.050000000000004,462.90H42.85" stroke="#111" stroke-width="1.4"/>
<text transform="translate(38.55,466.00) scale(0.9,1)" font-size="8.2" text-anchor="end" font-weight="bold" fill="#111" stroke="#111" stroke-width="0.3">6</text>
<path d="M39.050000000000004,484.00H42.85" stroke="#111" stroke-width="1.4"/>
<text transform="translate(38.55,487.10) scale(0.9,1)" font-size="8.2" text-anchor="end" font-weight="bold" fill="#111" stroke="#111" stroke-width="0.3">5</text>
<text transform="translate(47.40,386.40) scale(1.0500,1)" font-size="11.2" fill="#111" stroke="#111" stroke-width="0.2">CEBPD</text>
<path d="M47.65,455.80H64.90V469.70H47.65Z" fill="#fff" stroke="#111" stroke-width="1.6"/>
<path d="M47.65,461.60H64.90" stroke="#111" stroke-width="1.6"/>
<path d="M56.28,455.80V452.60M51.37,452.60H61.18" fill="none" stroke="#111" stroke-width="1.6"/>
<path d="M56.28,469.70V470.80M51.37,470.80H61.18" fill="none" stroke="#111" stroke-width="1.6"/>
<path d="M74.85,414.50H92.60V437.40H74.85Z" fill="#fff" stroke="#111" stroke-width="1.6"/>
<path d="M74.85,426.50H92.60" stroke="#111" stroke-width="1.6"/>
<path d="M83.72,414.50V413.40M78.69,413.40H88.76" fill="none" stroke="#111" stroke-width="1.6"/>
<path d="M83.72,437.40V445.70M78.69,445.70H88.76" fill="none" stroke="#111" stroke-width="1.6"/>
<text x="85.00" y="418.00" font-size="20" font-weight="bold" text-anchor="middle" fill="#111">*</text>
<path d="M102.05,443.40H119.80V460.00H102.05Z" fill="#fff" stroke="#111" stroke-width="1.6"/>
<path d="M102.05,443.80H119.80" stroke="#111" stroke-width="1.6"/>
<path d="M110.92,443.40V442.20M105.89,442.20H115.96" fill="none" stroke="#111" stroke-width="1.6"/>
<path d="M110.92,460.00V463.50M105.89,463.50H115.96" fill="none" stroke="#111" stroke-width="1.6"/>
<path d="M129.25,405.00H147.30V424.90H129.25Z" fill="#fff" stroke="#111" stroke-width="1.6"/>
<path d="M129.25,407.00H147.30" stroke="#111" stroke-width="1.6"/>
<path d="M138.28,405.00V404.60M133.17,404.60H143.38" fill="none" stroke="#111" stroke-width="1.6"/>
<path d="M138.28,424.90V439.70M133.17,439.70H143.38" fill="none" stroke="#111" stroke-width="1.6"/>
<text x="139.20" y="409.50" font-size="20" font-weight="bold" text-anchor="middle" fill="#111">*</text>
<path d="M41.2,501.4H45.0V606.8H152.4" fill="none" stroke="#111" stroke-width="1.6"/>
<text transform="translate(40.70,504.50) scale(0.9,1)" font-size="8.2" text-anchor="end" font-weight="bold" fill="#111" stroke="#111" stroke-width="0.3">7.5</text>
<path d="M41.2,527.75H45.0" stroke="#111" stroke-width="1.4"/>
<text transform="translate(40.70,530.85) scale(0.9,1)" font-size="8.2" text-anchor="end" font-weight="bold" fill="#111" stroke="#111" stroke-width="0.3">7.0</text>
<path d="M41.2,554.10H45.0" stroke="#111" stroke-width="1.4"/>
<text transform="translate(40.70,557.20) scale(0.9,1)" font-size="8.2" text-anchor="end" font-weight="bold" fill="#111" stroke="#111" stroke-width="0.3">6.5</text>
<path d="M41.2,580.45H45.0" stroke="#111" stroke-width="1.4"/>
<text transform="translate(40.70,583.55) scale(0.9,1)" font-size="8.2" text-anchor="end" font-weight="bold" fill="#111" stroke="#111" stroke-width="0.3">6.0</text>
<path d="M41.2,606.80H45.0" stroke="#111" stroke-width="1.4"/>
<text transform="translate(40.70,609.90) scale(0.9,1)" font-size="8.2" text-anchor="end" font-weight="bold" fill="#111" stroke="#111" stroke-width="0.3">5.5</text>
<text transform="translate(48.80,509.60) scale(1.0036,1)" font-size="11.2" fill="#111" stroke="#111" stroke-width="0.2">ZEB2</text>
<path d="M49.45,533.10H66.70V576.20H49.45Z" fill="#fff" stroke="#111" stroke-width="1.6"/>
<path d="M49.45,541.60H66.70" stroke="#111" stroke-width="1.6"/>
<path d="M58.08,533.10V528.20M53.17,528.20H62.98" fill="none" stroke="#111" stroke-width="1.6"/>
<path d="M58.08,576.20V585.90M53.17,585.90H62.98" fill="none" stroke="#111" stroke-width="1.6"/>
<path d="M76.05,546.70H93.70V573.90H76.05Z" fill="#fff" stroke="#111" stroke-width="1.6"/>
<path d="M76.05,563.50H93.70" stroke="#111" stroke-width="1.6"/>
<path d="M84.88,546.70V544.60M79.87,544.60H89.88" fill="none" stroke="#111" stroke-width="1.6"/>
<path d="M84.88,573.90V577.80M79.87,577.80H89.88" fill="none" stroke="#111" stroke-width="1.6"/>
<path d="M103.05,533.10H120.70V578.50H103.05Z" fill="#fff" stroke="#111" stroke-width="1.6"/>
<path d="M103.05,537.50H120.70" stroke="#111" stroke-width="1.6"/>
<path d="M111.88,533.10V528.20M106.87,528.20H116.88" fill="none" stroke="#111" stroke-width="1.6"/>
<path d="M129.75,554.30H147.30V578.50H129.75Z" fill="#fff" stroke="#111" stroke-width="1.6"/>
<path d="M129.75,558.20H147.30" stroke="#111" stroke-width="1.6"/>
<path d="M138.53,554.30V552.00M133.55,552.00H143.50" fill="none" stroke="#111" stroke-width="1.6"/>
<path d="M138.53,578.50V584.80M133.55,584.80H143.50" fill="none" stroke="#111" stroke-width="1.6"/>
<path d="M41.2,621.2H45.0V726.4H152.4" fill="none" stroke="#111" stroke-width="1.6"/>
<text transform="translate(40.70,624.30) scale(0.9,1)" font-size="8.2" text-anchor="end" font-weight="bold" fill="#111" stroke="#111" stroke-width="0.3">9.5</text>
<path d="M41.2,642.24H45.0" stroke="#111" stroke-width="1.4"/>
<text transform="translate(40.70,645.34) scale(0.9,1)" font-size="8.2" text-anchor="end" font-weight="bold" fill="#111" stroke="#111" stroke-width="0.3">9.0</text>
<path d="M41.2,663.28H45.0" stroke="#111" stroke-width="1.4"/>
<text transform="translate(40.70,666.38) scale(0.9,1)" font-size="8.2" text-anchor="end" font-weight="bold" fill="#111" stroke="#111" stroke-width="0.3">8.5</text>
<path d="M41.2,684.32H45.0" stroke="#111" stroke-width="1.4"/>
<text transform="translate(40.70,687.42) scale(0.9,1)" font-size="8.2" text-anchor="end" font-weight="bold" fill="#111" stroke="#111" stroke-width="0.3">8.0</text>
<path d="M41.2,705.36H45.0" stroke="#111" stroke-width="1.4"/>
<text transform="translate(40.70,708.46) scale(0.9,1)" font-size="8.2" text-anchor="end" font-weight="bold" fill="#111" stroke="#111" stroke-width="0.3">7.5</text>
<path d="M41.2,726.40H45.0" stroke="#111" stroke-width="1.4"/>
<text transform="translate(40.70,729.50) scale(0.9,1)" font-size="8.2" text-anchor="end" font-weight="bold" fill="#111" stroke="#111" stroke-width="0.3">7.0</text>
<text transform="translate(48.17,629.40) scale(1.0342,1)" font-size="11.2" fill="#111" stroke="#111" stroke-width="0.2">PRDM1</text>
<path d="M49.45,673.80H66.70V705.50H49.45Z" fill="#fff" stroke="#111" stroke-width="1.6"/>
<path d="M49.45,695.50H66.70" stroke="#111" stroke-width="1.6"/>
<path d="M58.08,673.80V663.90M53.17,663.90H62.98" fill="none" stroke="#111" stroke-width="1.6"/>
<path d="M58.08,705.50V706.20M53.17,706.20H62.98" fill="none" stroke="#111" stroke-width="1.6"/>
<path d="M76.05,657.70H93.70V699.70H76.05Z" fill="#fff" stroke="#111" stroke-width="1.6"/>
<path d="M76.05,674.30H93.70" stroke="#111" stroke-width="1.6"/>
<path d="M84.88,657.70V649.60M79.87,649.60H89.88" fill="none" stroke="#111" stroke-width="1.6"/>
<path d="M84.88,699.70V705.50M79.87,705.50H89.88" fill="none" stroke="#111" stroke-width="1.6"/>
<path d="M102.55,651.20H120.30V698.10H102.55Z" fill="#fff" stroke="#111" stroke-width="1.6"/>
<path d="M102.55,684.00H120.30" stroke="#111" stroke-width="1.6"/>
<path d="M111.42,651.20V650.80M106.39,650.80H116.46" fill="none" stroke="#111" stroke-width="1.6"/>
<path d="M111.42,698.10V706.20M106.39,706.20H116.46" fill="none" stroke="#111" stroke-width="1.6"/>
<path d="M129.75,652.80H147.30V701.50H129.75Z" fill="#fff" stroke="#111" stroke-width="1.6"/>
<path d="M129.75,681.20H147.30" stroke="#111" stroke-width="1.6"/>
<path d="M138.53,652.80V640.80M133.55,640.80H143.50" fill="none" stroke="#111" stroke-width="1.6"/>
<path d="M138.53,701.50V707.30M133.55,707.30H143.50" fill="none" stroke="#111" stroke-width="1.6"/>
<path d="M39.050000000000004,743.9H42.85V848.8H152.4" fill="none" stroke="#111" stroke-width="1.6"/>
<text transform="translate(38.55,747.00) scale(0.9,1)" font-size="8.2" text-anchor="end" font-weight="bold" fill="#111" stroke="#111" stroke-width="0.3">10</text>
<path d="M39.050000000000004,770.12H42.85" stroke="#111" stroke-width="1.4"/>
<text transform="translate(38.55,773.23) scale(0.9,1)" font-size="8.2" text-anchor="end" font-weight="bold" fill="#111" stroke="#111" stroke-width="0.3">9</text>
<path d="M39.050000000000004,796.35H42.85" stroke="#111" stroke-width="1.4"/>
<text transform="translate(38.55,799.45) scale(0.9,1)" font-size="8.2" text-anchor="end" font-weight="bold" fill="#111" stroke="#111" stroke-width="0.3">8</text>
<path d="M39.050000000000004,822.57H42.85" stroke="#111" stroke-width="1.4"/>
<text transform="translate(38.55,825.67) scale(0.9,1)" font-size="8.2" text-anchor="end" font-weight="bold" fill="#111" stroke="#111" stroke-width="0.3">7</text>
<path d="M39.050000000000004,848.80H42.85" stroke="#111" stroke-width="1.4"/>
<text transform="translate(38.55,851.90) scale(0.9,1)" font-size="8.2" text-anchor="end" font-weight="bold" fill="#111" stroke="#111" stroke-width="0.3">6</text>
<text transform="translate(46.54,751.90) scale(1.0593,1)" font-size="11.2" fill="#111" stroke="#111" stroke-width="0.2">BCL6</text>
<path d="M47.65,792.70H64.90V822.70H47.65Z" fill="#fff" stroke="#111" stroke-width="1.6"/>
<path d="M47.65,802.40H64.90" stroke="#111" stroke-width="1.6"/>
<path d="M56.28,792.70V790.40M51.37,790.40H61.18" fill="none" stroke="#111" stroke-width="1.6"/>
<path d="M56.28,822.70V830.10M51.37,830.10H61.18" fill="none" stroke="#111" stroke-width="1.6"/>
<path d="M74.85,784.20H92.60V815.30H74.85Z" fill="#fff" stroke="#111" stroke-width="1.6"/>
<path d="M74.85,801.20H92.60" stroke="#111" stroke-width="1.6"/>
<path d="M83.72,784.20V780.20M78.69,780.20H88.76" fill="none" stroke="#111" stroke-width="1.6"/>
<path d="M83.72,815.30V821.50M78.69,821.50H88.76" fill="none" stroke="#111" stroke-width="1.6"/>
<path d="M102.05,803.50H119.80V834.20H102.05Z" fill="#fff" stroke="#111" stroke-width="1.6"/>
<path d="M102.05,828.50H119.80" stroke="#111" stroke-width="1.6"/>
<path d="M110.92,803.50V797.30M105.89,797.30H115.96" fill="none" stroke="#111" stroke-width="1.6"/>
<path d="M110.92,834.20V841.20M105.89,841.20H115.96" fill="none" stroke="#111" stroke-width="1.6"/>
<path d="M129.05,796.20H146.80V834.20H129.05Z" fill="#fff" stroke="#111" stroke-width="1.6"/>
<path d="M129.05,828.00H146.80" stroke="#111" stroke-width="1.6"/>
<path d="M137.93,796.20V783.50M132.89,783.50H142.96" fill="none" stroke="#111" stroke-width="1.6"/>
<path d="M137.93,834.20V841.20M132.89,841.20H142.96" fill="none" stroke="#111" stroke-width="1.6"/>
<path d="M172.29999999999998,254.4H176.1V360.0H231.8" fill="none" stroke="#111" stroke-width="1.6"/>
<text transform="translate(171.80,257.50) scale(0.9,1)" font-size="8.2" text-anchor="end" font-weight="bold" fill="#111" stroke="#111" stroke-width="0.3">8.0</text>
<path d="M172.29999999999998,272.00H176.1" stroke="#111" stroke-width="1.4"/>
<text transform="translate(171.80,275.10) scale(0.9,1)" font-size="8.2" text-anchor="end" font-weight="bold" fill="#111" stroke="#111" stroke-width="0.3">7.5</text>
<path d="M172.29999999999998,289.60H176.1" stroke="#111" stroke-width="1.4"/>
<text transform="translate(171.80,292.70) scale(0.9,1)" font-size="8.2" text-anchor="end" font-weight="bold" fill="#111" stroke="#111" stroke-width="0.3">7.0</text>
<path d="M172.29999999999998,307.20H176.1" stroke="#111" stroke-width="1.4"/>
<text transform="translate(171.80,310.30) scale(0.9,1)" font-size="8.2" text-anchor="end" font-weight="bold" fill="#111" stroke="#111" stroke-width="0.3">6.5</text>
<path d="M172.29999999999998,324.80H176.1" stroke="#111" stroke-width="1.4"/>
<text transform="translate(171.80,327.90) scale(0.9,1)" font-size="8.2" text-anchor="end" font-weight="bold" fill="#111" stroke="#111" stroke-width="0.3">6.0</text>
<path d="M172.29999999999998,342.40H176.1" stroke="#111" stroke-width="1.4"/>
<text transform="translate(171.80,345.50) scale(0.9,1)" font-size="8.2" text-anchor="end" font-weight="bold" fill="#111" stroke="#111" stroke-width="0.3">5.5</text>
<path d="M172.29999999999998,360.00H176.1" stroke="#111" stroke-width="1.4"/>
<text transform="translate(171.80,363.10) scale(0.9,1)" font-size="8.2" text-anchor="end" font-weight="bold" fill="#111" stroke="#111" stroke-width="0.3">5.0</text>
<text transform="translate(179.98,262.30) scale(1.0227,1)" font-size="11.2" fill="#111" stroke="#111" stroke-width="0.2">PIK3AP1</text>
<path d="M180.65,333.80H199.00V343.50H180.65Z" fill="#fff" stroke="#111" stroke-width="1.6"/>
<path d="M180.65,341.60H199.00" stroke="#111" stroke-width="1.6"/>
<path d="M189.82,333.80V331.90M184.64,331.90H195.01" fill="none" stroke="#111" stroke-width="1.6"/>
<path d="M189.82,343.50V344.00M184.64,344.00H195.01" fill="none" stroke="#111" stroke-width="1.6"/>
<path d="M209.05,285.30H227.20V305.40H209.05Z" fill="#fff" stroke="#111" stroke-width="1.6"/>
<path d="M209.05,295.70H227.20" stroke="#111" stroke-width="1.6"/>
<path d="M218.12,285.30V282.30M212.99,282.30H223.26" fill="none" stroke="#111" stroke-width="1.6"/>
<path d="M218.12,305.40V307.70M212.99,307.70H223.26" fill="none" stroke="#111" stroke-width="1.6"/>
<path d="M170.0,378.5H173.8V484.0H231.7" fill="none" stroke="#111" stroke-width="1.6"/>
<text transform="translate(169.50,381.60) scale(0.9,1)" font-size="8.2" text-anchor="end" font-weight="bold" fill="#111" stroke="#111" stroke-width="0.3">15</text>
<path d="M170.0,413.67H173.8" stroke="#111" stroke-width="1.4"/>
<text transform="translate(169.50,416.77) scale(0.9,1)" font-size="8.2" text-anchor="end" font-weight="bold" fill="#111" stroke="#111" stroke-width="0.3">10</text>
<path d="M170.0,448.83H173.8" stroke="#111" stroke-width="1.4"/>
<text transform="translate(169.50,451.93) scale(0.9,1)" font-size="8.2" text-anchor="end" font-weight="bold" fill="#111" stroke="#111" stroke-width="0.3">5</text>
<path d="M170.0,484.00H173.8" stroke="#111" stroke-width="1.4"/>
<text transform="translate(169.50,487.10) scale(0.9,1)" font-size="8.2" text-anchor="end" font-weight="bold" fill="#111" stroke="#111" stroke-width="0.3">0</text>
<text transform="translate(178.80,386.50) scale(1.0737,1)" font-size="11.2" fill="#111" stroke="#111" stroke-width="0.2">CEBPD</text>
<path d="M179.05,431.50H197.60V446.00H179.05Z" fill="#fff" stroke="#111" stroke-width="1.6"/>
<path d="M179.05,445.20H197.60" stroke="#111" stroke-width="1.6"/>
<path d="M188.32,431.50V427.30M183.09,427.30H193.56" fill="none" stroke="#111" stroke-width="1.6"/>
<path d="M208.25,410.40H226.40V428.70H208.25Z" fill="#fff" stroke="#111" stroke-width="1.6"/>
<path d="M208.25,424.80H226.40" stroke="#111" stroke-width="1.6"/>
<path d="M217.32,410.40V406.50M212.19,406.50H222.46" fill="none" stroke="#111" stroke-width="1.6"/>
<path d="M217.32,428.70V429.20M212.19,429.20H222.46" fill="none" stroke="#111" stroke-width="1.6"/>
<path d="M166.89999999999998,501.4H170.7V606.8H231.2" fill="none" stroke="#111" stroke-width="1.6"/>
<text transform="translate(166.40,504.50) scale(0.9,1)" font-size="8.2" text-anchor="end" font-weight="bold" fill="#111" stroke="#111" stroke-width="0.3">9</text>
<path d="M166.89999999999998,527.75H170.7" stroke="#111" stroke-width="1.4"/>
<text transform="translate(166.40,530.85) scale(0.9,1)" font-size="8.2" text-anchor="end" font-weight="bold" fill="#111" stroke="#111" stroke-width="0.3">8</text>
<path d="M166.89999999999998,554.10H170.7" stroke="#111" stroke-width="1.4"/>
<text transform="translate(166.40,557.20) scale(0.9,1)" font-size="8.2" text-anchor="end" font-weight="bold" fill="#111" stroke="#111" stroke-width="0.3">7</text>
<path d="M166.89999999999998,580.45H170.7" stroke="#111" stroke-width="1.4"/>
<text transform="translate(166.40,583.55) scale(0.9,1)" font-size="8.2" text-anchor="end" font-weight="bold" fill="#111" stroke="#111" stroke-width="0.3">6</text>
<path d="M166.89999999999998,606.80H170.7" stroke="#111" stroke-width="1.4"/>
<text transform="translate(166.40,609.90) scale(0.9,1)" font-size="8.2" text-anchor="end" font-weight="bold" fill="#111" stroke="#111" stroke-width="0.3">5</text>
<text transform="translate(175.00,509.30) scale(1.1321,1)" font-size="11.2" fill="#111" stroke="#111" stroke-width="0.2">ZEB2</text>
<path d="M175.85,570.80H195.70V591.40H175.85Z" fill="#fff" stroke="#111" stroke-width="1.6"/>
<path d="M175.85,586.20H195.70" stroke="#111" stroke-width="1.6"/>
<path d="M185.77,570.80V566.40M180.20,566.40H191.35" fill="none" stroke="#111" stroke-width="1.6"/>
<path d="M185.77,591.40V592.00M180.20,592.00H191.35" fill="none" stroke="#111" stroke-width="1.6"/>
<path d="M206.05,532.40H226.00V546.20H206.05Z" fill="#fff" stroke="#111" stroke-width="1.6"/>
<path d="M206.05,536.60H226.00" stroke="#111" stroke-width="1.6"/>
<path d="M216.03,532.40V531.40M210.42,531.40H221.63" fill="none" stroke="#111" stroke-width="1.6"/>
<path d="M216.03,546.20V548.70M210.42,548.70H221.63" fill="none" stroke="#111" stroke-width="1.6"/>
<text x="216.90" y="535.70" font-size="20" font-weight="bold" text-anchor="middle" fill="#111">*</text>
<path d="M170.2,621.2H174.0V726.3H231.7" fill="none" stroke="#111" stroke-width="1.6"/>
<text transform="translate(169.70,624.30) scale(0.9,1)" font-size="8.2" text-anchor="end" font-weight="bold" fill="#111" stroke="#111" stroke-width="0.3">10</text>
<path d="M170.2,642.22H174.0" stroke="#111" stroke-width="1.4"/>
<text transform="translate(169.70,645.32) scale(0.9,1)" font-size="8.2" text-anchor="end" font-weight="bold" fill="#111" stroke="#111" stroke-width="0.3">9</text>
<path d="M170.2,663.24H174.0" stroke="#111" stroke-width="1.4"/>
<text transform="translate(169.70,666.34) scale(0.9,1)" font-size="8.2" text-anchor="end" font-weight="bold" fill="#111" stroke="#111" stroke-width="0.3">8</text>
<path d="M170.2,684.26H174.0" stroke="#111" stroke-width="1.4"/>
<text transform="translate(169.70,687.36) scale(0.9,1)" font-size="8.2" text-anchor="end" font-weight="bold" fill="#111" stroke="#111" stroke-width="0.3">7</text>
<path d="M170.2,705.28H174.0" stroke="#111" stroke-width="1.4"/>
<text transform="translate(169.70,708.38) scale(0.9,1)" font-size="8.2" text-anchor="end" font-weight="bold" fill="#111" stroke="#111" stroke-width="0.3">6</text>
<path d="M170.2,726.30H174.0" stroke="#111" stroke-width="1.4"/>
<text transform="translate(169.70,729.40) scale(0.9,1)" font-size="8.2" text-anchor="end" font-weight="bold" fill="#111" stroke="#111" stroke-width="0.3">5</text>
<text transform="translate(177.75,629.30) scale(1.0526,1)" font-size="11.2" fill="#111" stroke="#111" stroke-width="0.2">PRDM1</text>
<path d="M178.75,693.30H197.60V713.00H178.75Z" fill="#fff" stroke="#111" stroke-width="1.6"/>
<path d="M178.75,707.20H197.60" stroke="#111" stroke-width="1.6"/>
<path d="M188.18,693.30V689.90M182.86,689.90H193.49" fill="none" stroke="#111" stroke-width="1.6"/>
<path d="M188.18,713.00V713.50M182.86,713.50H193.49" fill="none" stroke="#111" stroke-width="1.6"/>
<path d="M208.25,647.60H226.40V660.50H208.25Z" fill="#fff" stroke="#111" stroke-width="1.6"/>
<path d="M208.25,654.70H226.40" stroke="#111" stroke-width="1.6"/>
<path d="M217.32,647.60V646.60M212.19,646.60H222.46" fill="none" stroke="#111" stroke-width="1.6"/>
<path d="M217.32,660.50V661.00M212.19,661.00H222.46" fill="none" stroke="#111" stroke-width="1.6"/>
<text x="217.70" y="651.80" font-size="20" font-weight="bold" text-anchor="middle" fill="#111">*</text>
<path d="M170.25,743.7H174.05V848.8H231.7" fill="none" stroke="#111" stroke-width="1.6"/>
<text transform="translate(169.75,746.80) scale(0.9,1)" font-size="8.2" text-anchor="end" font-weight="bold" fill="#111" stroke="#111" stroke-width="0.3">10</text>
<path d="M170.25,769.98H174.05" stroke="#111" stroke-width="1.4"/>
<text transform="translate(169.75,773.08) scale(0.9,1)" font-size="8.2" text-anchor="end" font-weight="bold" fill="#111" stroke="#111" stroke-width="0.3">9</text>
<path d="M170.25,796.25H174.05" stroke="#111" stroke-width="1.4"/>
<text transform="translate(169.75,799.35) scale(0.9,1)" font-size="8.2" text-anchor="end" font-weight="bold" fill="#111" stroke="#111" stroke-width="0.3">8</text>
<path d="M170.25,822.52H174.05" stroke="#111" stroke-width="1.4"/>
<text transform="translate(169.75,825.62) scale(0.9,1)" font-size="8.2" text-anchor="end" font-weight="bold" fill="#111" stroke="#111" stroke-width="0.3">7</text>
<path d="M170.25,848.80H174.05" stroke="#111" stroke-width="1.4"/>
<text transform="translate(169.75,851.90) scale(0.9,1)" font-size="8.2" text-anchor="end" font-weight="bold" fill="#111" stroke="#111" stroke-width="0.3">6</text>
<text transform="translate(177.73,752.30) scale(1.0704,1)" font-size="11.2" fill="#111" stroke="#111" stroke-width="0.2">BCL6</text>
<path d="M178.75,810.00H197.60V823.10H178.75Z" fill="#fff" stroke="#111" stroke-width="1.6"/>
<path d="M178.75,811.90H197.60" stroke="#111" stroke-width="1.6"/>
<path d="M188.18,810.00V809.60M182.86,809.60H193.49" fill="none" stroke="#111" stroke-width="1.6"/>
<path d="M188.18,823.10V825.80M182.86,825.80H193.49" fill="none" stroke="#111" stroke-width="1.6"/>
<path d="M208.25,769.00H226.40V783.50H208.25Z" fill="#fff" stroke="#111" stroke-width="1.6"/>
<path d="M208.25,783.10H226.40" stroke="#111" stroke-width="1.6"/>
<path d="M217.32,769.00V764.40M212.19,764.40H222.46" fill="none" stroke="#111" stroke-width="1.6"/>
<text x="217.30" y="770.00" font-size="20" font-weight="bold" text-anchor="middle" fill="#111">*</text>
<text transform="translate(65.40,856.90) rotate(-59)" font-size="12.6" text-anchor="end" fill="#111" stroke="#111" stroke-width="0.1">Neutralized</text>
<text transform="translate(90.80,855.90) rotate(-59)" font-size="12.6" text-anchor="end" fill="#111" stroke="#111" stroke-width="0.1">IL-12</text>
<text transform="translate(115.80,857.80) rotate(-59)" font-size="12.6" text-anchor="end" fill="#111" stroke="#111" stroke-width="0.1">IFN-<tspan font-family="Liberation Serif" font-size="1.08em">α</tspan></text>
<text transform="translate(143.70,856.80) rotate(-59)" font-size="12.6" text-anchor="end" fill="#111" stroke="#111" stroke-width="0.1">IL-12+IFN-<tspan font-family="Liberation Serif" font-size="1.08em">α</tspan></text>
<text transform="translate(196.00,860.30) rotate(-59)" font-size="12.6" text-anchor="end" fill="#111" stroke="#111" stroke-width="0.1">CCR7<tspan font-style="italic" font-size="10.5" dy="-4">hi</tspan></text>
<text transform="translate(229.70,860.30) rotate(-59)" font-size="12.6" text-anchor="end" fill="#111" stroke="#111" stroke-width="0.1">CXCR3<tspan font-style="italic" font-size="10.5" dy="-4">hi</tspan></text>
<text transform="translate(347.20,857.10) rotate(-59)" font-size="12.6" text-anchor="end" fill="#111" stroke="#111" stroke-width="0.1">Neutralized</text>
<text transform="translate(372.30,855.30) rotate(-59)" font-size="12.6" text-anchor="end" fill="#111" stroke="#111" stroke-width="0.1">IL-12</text>
<text transform="translate(396.90,857.00) rotate(-59)" font-size="12.6" text-anchor="end" fill="#111" stroke="#111" stroke-width="0.1">IFN-<tspan font-family="Liberation Serif" font-size="1.08em">α</tspan></text>
<text transform="translate(423.80,856.40) rotate(-59)" font-size="12.6" text-anchor="end" fill="#111" stroke="#111" stroke-width="0.1">IL-12+IFN-<tspan font-family="Liberation Serif" font-size="1.08em">α</tspan></text>
<text transform="translate(477.30,860.30) rotate(-59)" font-size="12.6" text-anchor="end" fill="#111" stroke="#111" stroke-width="0.1">CCR7<tspan font-style="italic" font-size="10.5" dy="-4">hi</tspan></text>
<text transform="translate(511.00,860.30) rotate(-59)" font-size="12.6" text-anchor="end" fill="#111" stroke="#111" stroke-width="0.1">CXCR3<tspan font-style="italic" font-size="10.5" dy="-4">hi</tspan></text>
</svg>
</body></html>
